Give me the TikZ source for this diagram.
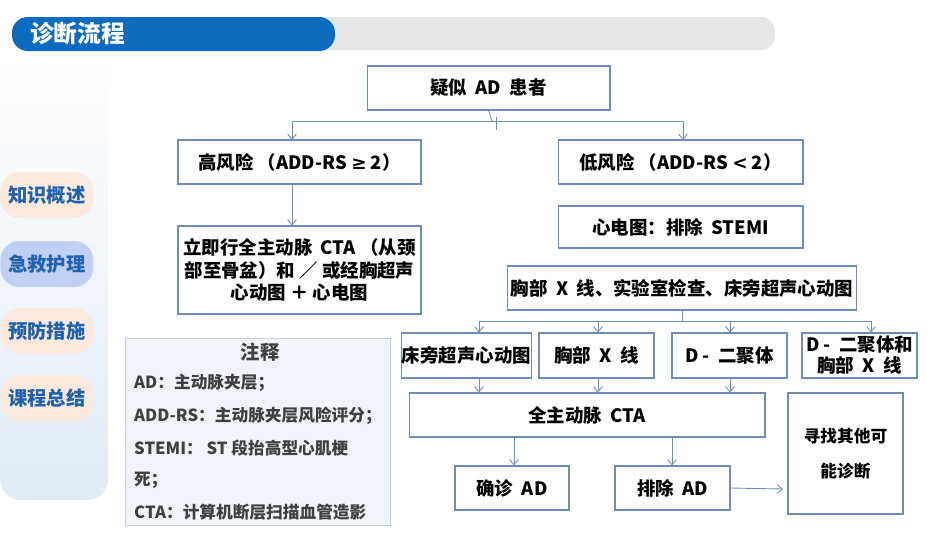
\documentclass[tikz,border=0pt]{standalone}
\usepackage{fontspec}
\setmainfont{Noto Sans CJK SC}
\newfontfamily\symfont{DejaVu Sans}
\usetikzlibrary{arrows.meta,positioning}
\definecolor{boxline}{HTML}{6F8BB8}
\definecolor{titleblue}{HTML}{0B6BBF}
\definecolor{barbg}{HTML}{E6E6E6}
\definecolor{navtext}{HTML}{1F62AE}
\definecolor{navpeach}{HTML}{FBE9DD}
\definecolor{navblue}{HTML}{D8E6F4}
\definecolor{notefill}{HTML}{EEF4FA}
\newcommand{\bx}{\fontsize{10.5}{13}\selectfont\bfseries}

\tikzset{
	fbox/.style={draw=boxline, line width=0.6pt, fill=white, inner sep=2pt, align=center, font=\bx},
	flow/.style={draw=boxline, line width=0.5pt, -{Straight Barb[length=3pt,width=5pt]}},
	link/.style={draw=boxline, line width=0.5pt},
	nav/.style={rounded corners=11pt, minimum width=1.86cm, minimum height=0.92cm, text=navtext,
		font=\fontsize{11}{13}\selectfont\bfseries, anchor=west},
}

\begin{document}
\begin{tikzpicture}[x=0.02cm, y=-0.02cm]
	\useasboundingbox (0,0) rectangle (950,535);
	\fill[white] (0,0) rectangle (950,535);
	
	% header
	\fill[barbg, rounded corners=8pt] (250,17) rectangle (775,50);
	\fill[titleblue, rounded corners=9pt] (12,17) rectangle (335,51);
	\node[text=white, font=\fontsize{13.5}{15}\selectfont\bfseries, anchor=west] (title) at (24,34) {诊断流程};
	
	% side bar
	\shade[top color=white, bottom color=navblue!80, rounded corners=12pt] (0,55) rectangle (108,500);
	\node[nav, fill=navpeach] (n1) at (0,195) {知识概述};
	\node[nav, fill=navblue!90!blue] (n2) at (0,264) {急救护理};
	\node[nav, fill=navpeach] (n3) at (0,331) {预防措施};
	\node[nav, fill=navpeach] (n4) at (0,398) {课程总结};
	
	% flow boxes
	\node[fbox, minimum width=4.86cm, minimum height=0.88cm] (susp) at (488.5,88) {疑似\ \ AD\ \ 患者};
	\node[fbox, minimum width=4.86cm, minimum height=0.88cm] (high) at (299.5,162) {高风险 （ADD-RS {\symfont\bfseries ≥} 2）};
	\node[fbox, minimum width=4.86cm, minimum height=1.76cm] (imm) at (299.5,270) {立即行全主动脉\ \ CTA\ （从颈\\部至骨盆）和 ／ 或经胸超声\\心动图 ＋ 心电图};
	\node[fbox, minimum width=4.9cm, minimum height=0.88cm] (low) at (680.5,162) {低风险 （ADD-RS {\symfont\bfseries <} 2）};
	\node[fbox, minimum width=4.9cm, minimum height=0.84cm] (ecg) at (680.5,227) {心电图：排除\ \ STEMI};
	\node[fbox, minimum width=6.76cm, minimum height=0.88cm] (exam) at (682,288) {胸部\ \ X\ \ 线、实验室检查、床旁超声心动图};
	\node[fbox, minimum width=2.3cm, minimum height=0.9cm, inner sep=0pt] (echo) at (466.5,355.5) {床旁超声心动图};
	\node[fbox, minimum width=2.3cm, minimum height=0.9cm] (xray) at (596.5,355.5) {胸部\ \ X\ \ 线};
	\node[fbox, minimum width=2.3cm, minimum height=0.9cm] (dimer) at (729.5,355.5) {D - \ 二聚体};
	\node[fbox, minimum width=2.3cm, minimum height=0.9cm, inner sep=0pt, font=\fontsize{10.5}{12}\selectfont\bfseries] (both) at (859.5,355.5) {D - \ 二聚体和\\胸部\ \ X\ \ 线};
	\node[fbox, minimum width=7.12cm, minimum height=0.88cm] (cta) at (587,415) {全主动脉\ \ CTA};
	\node[fbox, minimum width=2.28cm, minimum height=0.88cm] (conf) at (512,488) {确诊\ \ AD};
	\node[fbox, minimum width=2.3cm, minimum height=0.88cm] (excl) at (672.5,488) {排除\ \ AD};
	\node[fbox, minimum width=2.3cm, minimum height=2.42cm, font=\fontsize{9.5}{20}\selectfont\bfseries] (other) at (845.5,453.5) {寻找其他可\\能诊断};
	
	% connectors
	\draw[link] (susp.south) -- (492,121) coordinate (split1);
	\draw[link] (292,121) -- (683,121);
	\draw[link] (496,117) -- (496,130);
	\draw[flow] (292,121) -- (292,140);
	\draw[flow] (683,121) -- (683,140);
	\draw[flow] (high.south -| 292,0) -- (imm.north -| 292,0);
	\draw[link] (exam.south) -- (682,321) coordinate (split2);
	\draw[link] (479,321) -- (871,321);
	\foreach \x/\n in {479/echo, 598/xray, 730/dimer, 871/both}
		\draw[flow] (\x,321) -- (\n.north -| \x,0);
	\foreach \x/\n in {479/echo, 598/xray, 730/dimer}
		\draw[flow] (\n.south -| \x,0) -- (cta.north -| \x,0);
	\draw[flow] (cta.south -| 514,0) -- (conf.north -| 514,0);
	\draw[flow] (cta.south -| 672,0) -- (excl.north -| 672,0);
	\draw[flow] (excl.east) -- (783,489);
	
	% notes
	\node[draw=boxline!40, fill=notefill, minimum width=5.3cm, minimum height=3.74cm] (notes) at (257.5,431.5) {};
	\begin{scope}[font=\fontsize{9.5}{11}\selectfont\bfseries, text=black!75, anchor=west]
		\node[font=\fontsize{11}{12}\selectfont\bfseries, anchor=center] (ntitle) at (260,352) {注释};
		\node (na) at (128,383) {AD：主动脉夹层；};
		\node (nb) at (128,416) {ADD-RS：主动脉夹层风险评分；};
		\node (nc) at (128,448) {STEMI： ST 段抬高型心肌梗};
		\node (nd) at (128,480) {死；};
		\node (ne) at (128,512) {CTA：计算机断层扫描血管造影};
	\end{scope}
\end{tikzpicture}
\end{document}
